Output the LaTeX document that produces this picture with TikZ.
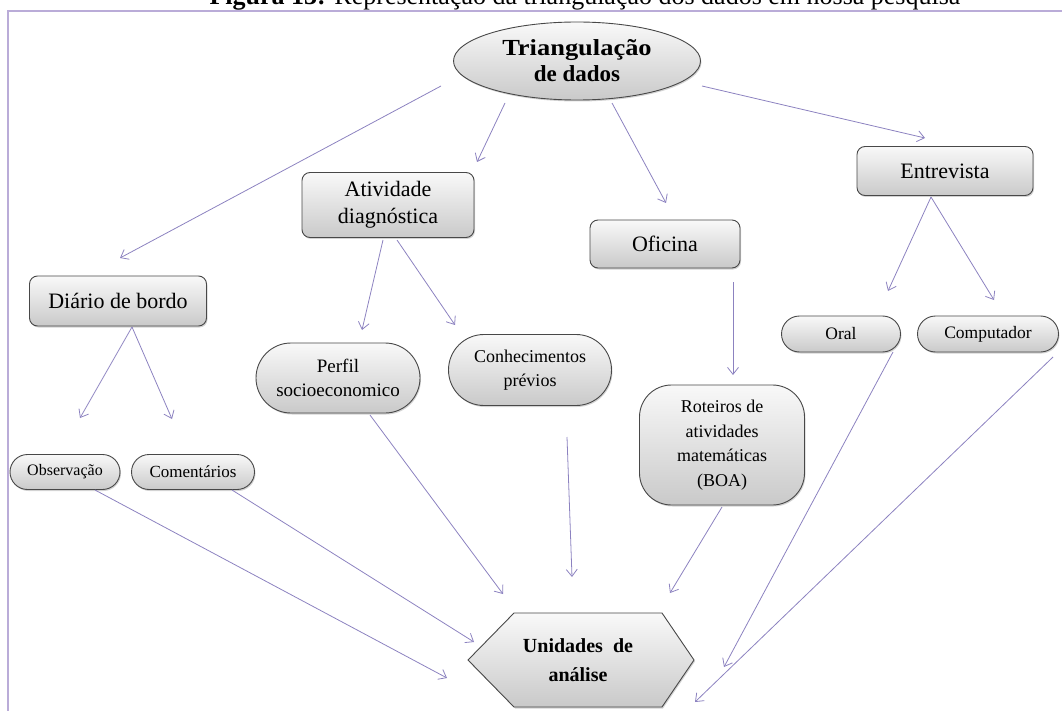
\documentclass[tikz,border=0pt]{standalone}
\usepackage{fontspec}
\setmainfont{Liberation Serif}
\usetikzlibrary{shapes.geometric,shapes.misc,arrows.meta,calc,shadows}

\definecolor{arrowc}{RGB}{140,130,192}
\definecolor{framec}{RGB}{186,172,216}
\definecolor{edgec}{RGB}{72,72,72}

\tikzset{
  x=1pt, y=-1pt,
  shaded/.style={draw=edgec, line width=0.9pt, top color=gray!5, bottom color=gray!42,
    drop shadow={shadow xshift=1pt, shadow yshift=-1.5pt, opacity=0.35}},
  box/.style={shaded, rounded corners=8pt, align=center, inner sep=0pt,
    font=\fontsize{22}{27}\selectfont},
  pill/.style={shaded, rounded rectangle, align=center, inner sep=0pt},
  arr/.style={draw=arrowc, line width=0.8pt, -{Straight Barb[length=7pt,width=11pt]}},
}

\begin{document}
\begin{tikzpicture}
\useasboundingbox (0,0) rectangle (1062,711);
\clip (0,0) rectangle (1062,711);

% caption line and frame
\node[anchor=base, font=\fontsize{26}{30}\selectfont, inner sep=0pt] (title) at (585,5)
  {\textbf{Figura 13:} Representação da triangulação dos dados em nossa pesquisa};
\draw[framec, line width=2pt] (8,730) -- (8,11) -- (1080,11);

% top node
\node[shaded, ellipse, minimum width=247, minimum height=78, inner sep=0pt, align=center,
  font=\bfseries\fontsize{23}{26}\selectfont] (tri) at (577,61)
  {\scalebox{1.15}[1]{Triangulação}\\de dados};

% second level
\node[box, minimum width=172, minimum height=65] (ativ) at (388,205) {Atividade\\diagnóstica};
\node[box, minimum width=150, minimum height=48] (ofi) at (665,244) {Oficina};
\node[box, minimum width=176, minimum height=49] (ent) at (945,171) {Entrevista};
\node[box, minimum width=177, minimum height=50] (dia) at (118,301) {Diário de bordo};

% third level
\node[pill, minimum width=164, minimum height=70, font=\fontsize{19}{24}\selectfont] (perf) at (338,378) {Perfil\\socioeconomico};
\node[pill, minimum width=163, minimum height=71, font=\fontsize{18}{24}\selectfont] (conh) at (530,370) {Conhecimentos\\prévios};
\node[shaded, rounded corners=32pt, minimum width=165, minimum height=120, align=center, inner sep=0pt,
  font=\fontsize{18}{24.5}\selectfont] (rot) at (722,445) {Roteiros de\\atividades\\matemáticas\\(BOA)};
\node[pill, minimum width=119, minimum height=36, font=\fontsize{17.5}{21}\selectfont] (oral) at (841,334) {Oral};
\node[pill, minimum width=141, minimum height=36, font=\fontsize{17.5}{21}\selectfont] (comp) at (988,334) {Computador};
\node[pill, minimum width=110, minimum height=35, font=\fontsize{16}{20}\selectfont] (obs) at (65,472) {Observação};
\node[pill, minimum width=123, minimum height=35, font=\fontsize{17}{20}\selectfont] (come) at (193,472) {Comentários};

% bottom hexagon
\coordinate (unic) at (578,660);
\path[shaded] ($(unic)+(-110,0)$) -- ($(unic)+(-64,-47)$) -- ($(unic)+(84,-47)$) -- ($(unic)+(116,0)$)
  -- ($(unic)+(84,47)$) -- ($(unic)+(-64,47)$) -- cycle;
\node[align=center, inner sep=0pt, font=\bfseries\fontsize{20}{29}\selectfont] (uni) at (unic) {Unidades~ de\\análise};

% connectors from the top node
\draw[arr] ($(tri)+(-136,25)$) -- ($(dia)+(2,-43)$);
\draw[arr] ($(tri)+(-72,42)$) -- ($(ativ)+(89,-43)$);
\draw[arr] ($(tri)+(35,42)$) -- ($(ofi)+(1,-41)$);
\draw[arr] ($(tri)+(125,25)$) -- ($(ent)+(-20,-33)$);

% connectors to the third level
\draw[arr] ($(ativ)+(-5,35)$) -- ($(perf)+(24,-48)$);
\draw[arr] ($(ativ)+(9,35)$) -- ($(conh)+(-75,-45)$);
\draw[arr] ($(ofi)+(68,38)$) -- ($(rot)+(11,-70)$);
\draw[arr] ($(ent)+(-14,26)$) -- ($(oral)+(47,-43)$);
\draw[arr] ($(ent)+(-14,26)$) -- ($(comp)+(6,-34)$);
\draw[arr] ($(dia)+(14,26)$) -- ($(obs)+(15,-54)$);
\draw[arr] ($(dia)+(14,26)$) -- ($(come)+(-21,-53)$);

% connectors into the hexagon
\draw[arr] ($(obs)+(30,18)$) -- ($(uni)+(-131,18)$);
\draw[arr] ($(come)+(39,18)$) -- ($(uni)+(-104,-18)$);
\draw[arr] ($(perf)+(32,37)$) -- ($(uni)+(-75,-66)$);
\draw[arr] ($(conh)+(37,67)$) -- ($(uni)+(-6,-83)$);
\draw[arr] ($(rot)+(0,62)$) -- ($(uni)+(92,-67)$);
\draw[arr] ($(oral)+(52,18)$) -- ($(uni)+(146,7)$);
\draw[arr] ($(comp)+(65,23)$) -- ($(uni)+(117,42)$);
\end{tikzpicture}
\end{document}
